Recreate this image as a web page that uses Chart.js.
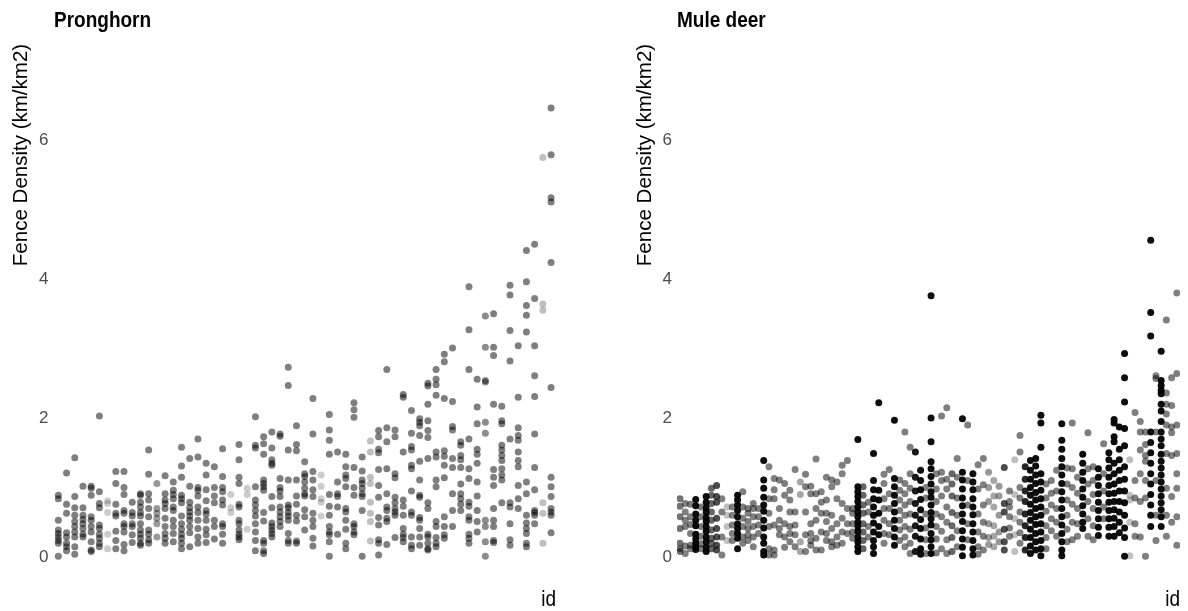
<!DOCTYPE html>
<html>
<head>
<meta charset="utf-8">
<script src="https://cdn.jsdelivr.net/npm/chart.js@4.4.1/dist/chart.umd.min.js"></script>
<style>
  html, body { margin: 0; padding: 0; background: #fff; }
  #wrap { position: relative; width: 1188px; height: 611px; }
  .panel { position: absolute; top: 0; width: 594px; height: 611px; }
</style>
</head>
<body>
<div id="wrap">
  <div class="panel" style="left:0"><canvas id="prongChart"></canvas></div>
  <div class="panel" style="left:594px"><canvas id="muleChart"></canvas></div>
</div>
<script>
// fence density per animal id (one inner array per id)
const pronghornValues = [
  [0.89,0.84,0.53,0.39,0.34,0.29,0.24,0.20,0.01],
  [1.21,0.76,0.63,0.35,0.29,0.20,0.15,0.09],
  [1.43,0.87,0.71,0.60,0.51,0.44,0.36,0.29,0.15,0.04],
  [1.02,0.71,0.60,0.54,0.48,0.41,0.33,0.29],
  [1.02,0.99,0.89,0.58,0.53,0.44,0.36,0.22,0.10,0.08],
  [2.03,0.94,0.77,0.71,0.46,0.41,0.33,0.27,0.20,0.15],
  [0.81,0.77,0.64,0.33,0.12],
  [1.23,1.06,0.76,0.63,0.59,0.37,0.24,0.12],
  [1.23,1.00,0.90,0.67,0.63,0.48,0.44,0.36,0.18,0.09],
  [0.79,0.64,0.59,0.48,0.44,0.32,0.21],
  [0.91,0.89,0.79,0.72,0.64,0.59,0.48,0.39,0.33,0.27,0.20,0.17],
  [1.54,1.19,0.91,0.82,0.70,0.58,0.39,0.33,0.25,0.20],
  [1.06,0.70,0.63,0.56,0.48,0.29],
  [1.17,0.91,0.82,0.77,0.70,0.56,0.44,0.34,0.27,0.20],
  [1.08,0.96,0.90,0.84,0.72,0.67,0.53,0.44,0.34,0.22],
  [1.58,1.31,1.15,0.89,0.84,0.78,0.59,0.48,0.40,0.33,0.27,0.20,0.12],
  [1.42,1.02,0.79,0.71,0.65,0.59,0.53,0.44,0.35,0.15],
  [1.70,1.44,1.00,0.96,0.88,0.72,0.64,0.53,0.41,0.29,0.20],
  [1.35,1.18,0.97,0.81,0.67,0.62,0.53,0.40,0.32,0.21],
  [1.30,1.00,0.88,0.78,0.53,0.44,0.26],
  [1.56,1.16,1.00,0.94,0.82,0.75,0.48,0.44,0.33,0.20],
  [0.90,0.71,0.64],
  [1.62,1.40,1.15,1.06,0.76,0.72,0.53,0.48,0.39,0.33,0.29,0.25],
  [0.99,0.90,0.40],
  [2.02,1.61,1.57,1.01,0.82,0.75,0.67,0.59,0.48,0.36,0.24,0.09],
  [1.73,1.63,1.48,1.11,1.06,1.01,0.96,0.64,0.52,0.24,0.20,0.09,0.05],
  [1.80,1.57,1.40,1.35,1.32,0.87,0.71,0.49,0.44,0.39,0.34,0.29],
  [1.77,1.74,1.13,1.00,0.95,0.87,0.72,0.65,0.58,0.51,0.44],
  [2.73,2.47,1.54,1.11,0.75,0.71,0.64,0.59,0.53,0.34,0.24,0.20],
  [1.89,1.62,1.53,1.11,0.88,0.76,0.60,0.52,0.23,0.20],
  [1.37,1.20,1.16,1.08,0.99,0.91,0.88,0.68,0.58,0.39],
  [2.28,1.77,1.23,1.11,0.97,0.87,0.63,0.53,0.44,0.27,0.16],
  [1.18,1.02,0.84,0.79,0.59],
  [2.05,1.83,1.68,1.48,0.90,0.73,0.60,0.44,0.36,0.32,0.22,0.01],
  [1.51,1.08,0.91,0.87,0.72,0.33],
  [1.48,1.30,1.18,1.13,1.01,0.70,0.65,0.53,0.40,0.20,0.12],
  [2.22,2.12,2.01,1.29,1.00,0.89,0.48,0.44,0.36,0.32],
  [1.44,1.24,1.11,1.06,0.99,0.91,0.87,0.67,0.01],
  [1.67,1.51,1.15,1.06,0.79,0.63,0.51,0.23],
  [1.82,1.73,1.55,1.50,1.26,1.03,0.86,0.57,0.46,0.25,0.20,0.03],
  [2.70,1.86,1.66,1.27,0.91,0.72,0.67,0.56,0.51,0.18],
  [1.83,1.73,1.20,1.14,0.86,0.78,0.70,0.65,0.60,0.28],
  [2.34,2.30,1.51,0.82,0.73,0.60,0.41,0.33,0.28,0.22],
  [2.11,1.78,1.59,1.54,1.32,1.27,0.95,0.65,0.60,0.29,0.17,0.12],
  [1.99,1.94,1.89,1.75,1.38,1.11,0.89,0.86,0.57,0.53,0.41,0.29,0.17],
  [2.50,2.46,2.20,1.96,1.82,1.72,1.42,0.78,0.70,0.33,0.29,0.20,0.12,0.10],
  [2.70,2.56,2.48,2.33,1.51,1.44,1.11,1.01,0.51,0.44,0.28,0.20,0.15],
  [2.92,2.81,2.28,1.53,1.45,1.32,1.14,0.58,0.44,0.32,0.27],
  [3.01,2.24,1.88,1.83,1.42,1.29,0.91,0.67,0.44],
  [1.66,1.61,1.46,1.40,1.29,1.05,0.91,0.84,0.76,0.67],
  [3.89,3.27,2.70,1.70,1.27,1.13,0.79,0.73,0.58,0.53,0.33,0.27,0.20],
  [2.56,2.16,1.92,1.55,1.48,1.35,1.08,0.88,0.67,0.51,0.36],
  [3.47,3.02,2.54,2.52,1.94,1.78,0.53,0.44,0.22,0.01],
  [3.50,3.02,2.90,2.20,1.26,1.15,1.03,0.70,0.53,0.44,0.24,0.21],
  [2.17,1.96,1.92,1.61,1.54,1.46,1.39,1.27,1.18,1.11,0.78],
  [3.91,3.77,3.26,2.82,1.70,0.78,0.72,0.48,0.25,0.17],
  [3.04,2.30,1.86,1.75,1.68,1.51,1.39,1.30,1.03,0.84,0.70],
  [4.41,3.96,3.62,3.48,3.24,1.08,0.91,0.60,0.49,0.41,0.34,0.20,0.15],
  [4.50,3.72,3.04,2.61,2.31,1.77,1.29,0.97,0.67,0.64,0.60,0.48],
  [5.75,3.64,3.55,0.78,0.63,0.20],
  [6.46,5.79,5.17,5.11,4.24,2.44,1.15,1.01,0.87,0.70,0.65,0.60,0.35]
];
const pronghornAlpha = [
  0.5,0.5,0.5,0.5,0.5,0.5,0.2,0.5,0.5,0.5,
  0.5,0.5,0.4,0.5,0.5,0.5,0.5,0.5,0.5,0.5,
  0.5,0.2,0.5,0.2,0.5,0.5,0.5,0.5,0.5,0.5,
  0.5,0.5,0.2,0.5,0.5,0.5,0.5,0.5,0.25,0.5,
  0.5,0.5,0.5,0.5,0.5,0.5,0.5,0.5,0.5,0.5,
  0.5,0.5,0.45,0.5,0.5,0.5,0.5,0.5,0.5,0.25,
  0.5
];

const muleDeerValues = [
  [0.84,0.73,0.58,0.41,0.20,0.12,0.08],
  [0.77,0.65,0.53,0.44,0.16,0.05],
  [0.76,0.58,0.47,0.34,0.17,0.12],
  [0.83,0.74,0.62,0.53,0.45,0.33,0.26,0.20,0.15,0.11],
  [0.72,0.58,0.44,0.30,0.19,0.12],
  [0.87,0.79,0.71,0.65,0.57,0.51,0.44,0.37,0.29,0.22,0.14,0.08],
  [0.99,0.89,0.77,0.65,0.53,0.39,0.27,0.20,0.12],
  [1.03,0.87,0.79,0.56,0.41,0.29,0.17,0.10],
  [0.84,0.65,0.29,0.03],
  [0.72,0.60,0.44,0.24],
  [0.72,0.60,0.46,0.34,0.24],
  [0.89,0.82,0.75,0.67,0.58,0.48,0.41,0.34,0.27,0.12],
  [0.94,0.72,0.56,0.44,0.29,0.20],
  [0.70,0.63,0.51,0.41,0.32,0.24],
  [0.77,0.70,0.58,0.44,0.29,0.15],
  [0.70,0.58,0.46,0.34],
  [1.39,1.11,0.99,0.86,0.75,0.66,0.53,0.42,0.29,0.20,0.08,0.03],
  [1.30,0.84,0.63,0.44,0.12,0.03],
  [1.13,0.97,0.84,0.46,0.10,0.03],
  [1.11,0.70,0.53,0.41,0.32],
  [1.06,0.89,0.48,0.29,0.14],
  [0.96,0.82,0.65,0.44,0.34,0.22],
  [1.26,0.65,0.46,0.32,0.15],
  [1.08,0.90,0.22,0.08],
  [1.19,1.01,0.65,0.32,0.08],
  [1.02,0.91,0.48,0.34,0.24,0.17],
  [1.41,0.91,0.70,0.53,0.27,0.10],
  [0.94,0.79,0.63,0.36,0.10],
  [1.15,0.82,0.63,0.51,0.34,0.24],
  [1.11,1.01,0.60,0.41,0.22,0.15],
  [1.08,0.84,0.48,0.29,0.17],
  [1.32,1.20,0.77,0.56,0.36,0.20],
  [1.39,0.70,0.48,0.34],
  [0.70,0.63,0.48,0.36,0.27],
  [1.69,1.01,0.94,0.87,0.80,0.72,0.65,0.58,0.50,0.44,0.37,0.29,0.22,0.15,0.08],
  [1.01,0.89,0.75,0.63,0.48,0.36,0.24,0.12],
  [0.79,0.65,0.44,0.29],
  [1.49,1.10,0.97,0.84,0.72,0.60,0.49,0.36,0.24,0.15,0.05],
  [2.22,0.96,0.82,0.63,0.44,0.32],
  [1.19,1.06,0.84,0.70,0.53,0.34,0.20],
  [1.26,0.91,0.70,0.48,0.32],
  [1.97,1.13,1.01,0.89,0.77,0.65,0.53,0.41,0.29,0.17],
  [1.11,0.96,0.82,0.67,0.53,0.39,0.24],
  [1.80,1.06,0.91,0.75,0.60,0.44,0.29,0.15],
  [1.58,1.20,0.99,0.80,0.62,0.40,0.20,0.05],
  [1.51,1.15,0.95,0.77,0.60,0.45,0.30,0.08],
  [1.25,1.10,0.97,0.83,0.68,0.54,0.41,0.26,0.12,0.04],
  [1.00,0.85,0.62,0.42,0.25,0.05],
  [3.76,2.00,1.66,1.37,1.27,1.16,1.05,0.94,0.86,0.75,0.64,0.55,0.46,0.34,0.25,0.15,0.05],
  [1.20,0.98,0.80,0.62,0.44,0.26,0.06],
  [2.03,1.22,1.10,0.88,0.58,0.37,0.12],
  [2.15,1.12,0.98,0.72,0.50,0.25,0.05],
  [1.20,1.05,0.88,0.64,0.45,0.28,0.08],
  [1.42,1.15,0.85,0.60,0.38,0.15],
  [1.99,1.22,1.11,0.98,0.85,0.74,0.62,0.51,0.38,0.26,0.14,0.02],
  [1.90,1.10,0.75,0.48,0.25],
  [1.20,1.08,0.97,0.84,0.72,0.61,0.48,0.36,0.24,0.12,0.03],
  [1.33,0.98,0.62,0.36,0.15,0.04],
  [1.42,1.04,0.75,0.50,0.30,0.10],
  [1.22,1.00,0.80,0.48,0.28,0.18],
  [1.10,0.88,0.72,0.45,0.30,0.15],
  [1.02,0.88,0.60,0.36,0.22],
  [1.29,0.77,0.65,0.40,0.22,0.10],
  [0.95,0.80,0.72,0.58,0.42,0.30],
  [1.40,0.90,0.55,0.32,0.08],
  [1.75,1.51,1.00,0.85,0.65,0.50,0.35,0.20],
  [1.30,1.12,0.95,0.80,0.62,0.45,0.28,0.10],
  [1.39,1.25,1.12,1.00,0.89,0.76,0.64,0.53,0.40,0.28,0.16,0.05],
  [1.42,1.31,1.18,1.06,0.93,0.82,0.70,0.58,0.47,0.34,0.22,0.10],
  [2.04,1.93,1.58,1.20,1.08,0.96,0.84,0.72,0.60,0.48,0.36,0.24,0.12,0.02],
  [1.05,0.85,0.66,0.45,0.28,0.12],
  [1.10,0.92,0.75,0.55,0.38],
  [1.25,0.95,0.70,0.50,0.30],
  [1.92,1.68,1.55,1.42,1.30,1.18,1.06,0.94,0.82,0.70,0.58,0.46,0.34,0.22,0.10,0.02],
  [1.28,1.05,0.82,0.60,0.40,0.22],
  [1.93,1.27,1.00,0.76,0.50,0.25],
  [1.15,0.92,0.70,0.48,0.30],
  [1.48,1.35,1.22,1.10,0.98,0.86,0.74,0.62,0.50,0.41],
  [1.79,1.27,1.05,0.80,0.55,0.30],
  [1.30,1.10,0.90,0.70,0.45,0.25],
  [1.27,1.15,1.03,0.91,0.79,0.67,0.55,0.43,0.31],
  [1.63,1.20,0.95,0.72,0.55],
  [1.50,1.40,1.28,1.15,1.03,0.91,0.79,0.67,0.55,0.43,0.30],
  [1.98,1.93,1.73,1.66,1.35,1.20,1.05,0.92,0.80,0.68,0.56,0.44,0.30],
  [1.87,1.55,1.40,1.25,1.10,0.95,0.80,0.65,0.50,0.35],
  [2.93,2.58,2.23,1.85,1.60,1.30,1.12,0.95,0.78,0.60,0.42,0.28,0.01],
  [1.40,0.89,0.82,0.50,0.02],
  [2.08,1.10,0.85,0.48,0.30],
  [1.95,1.80,1.54,1.20,0.80,0.29],
  [1.80,1.62,1.46,1.38,1.10,0.85,0.01],
  [4.56,3.52,3.18,1.80,1.65,1.50,1.35,1.20,1.05,0.90,0.75,0.60,0.44],
  [2.61,2.57,1.80,1.10,0.60,0.24],
  [2.96,2.54,2.47,2.40,2.35,2.20,2.10,1.95,1.80,1.70,1.60,1.48,1.38,1.28,1.18,1.08,0.98,0.88,0.78,0.68,0.58,0.44],
  [3.41,2.36,2.20,2.06,1.90,1.49,0.99,0.60,0.30],
  [2.58,2.18,1.87,1.79,1.46,0.87,0.50],
  [3.80,2.64,1.90,1.49,1.20,0.99,0.58,0.17]
];
const muleDeerAlpha = [
  0.55,0.5,0.5,0.95,0.5,0.95,0.6,0.7,0.5,0.25,
  0.5,0.95,0.5,0.5,0.5,0.5,0.95,0.5,0.5,0.5,
  0.5,0.5,0.5,0.35,0.5,0.5,0.5,0.5,0.5,0.5,
  0.5,0.5,0.5,0.5,0.95,0.6,0.5,0.95,0.95,0.5,
  0.5,0.95,0.5,0.5,0.5,0.9,0.95,0.5,0.95,0.5,
  0.5,0.5,0.6,0.5,0.95,0.5,0.95,0.5,0.5,0.4,
  0.35,0.4,0.7,0.5,0.25,0.5,0.85,0.95,0.95,0.95,
  0.5,0.5,0.5,0.95,0.5,0.5,0.5,0.95,0.5,0.5,
  0.95,0.5,0.95,0.95,0.95,0.95,0.25,0.5,0.5,0.5,
  0.95,0.5,0.95,0.5,0.5,0.5
];

const yTicks = [0, 2, 4, 6];
const yTitle = 'Fence Density (km/km2)';
const xTitle = 'id';

const FONT = '"Liberation Sans", Arial, sans-serif';

// titles, rotated y title and the "id" label (drawn a little taller, like the source)
const panelTextPlugin = {
    id: 'panelText',
    afterDraw: (chart) => {
        const o = chart.config.options.plugins.panelText;
        if (!o) return;
        const ctx = chart.ctx;
        const area = chart.chartArea;
        ctx.save();
        ctx.fillStyle = '#000';
        ctx.textBaseline = 'alphabetic';

        ctx.save();
        ctx.translate(o.titleX, 27);
        ctx.scale(1, 1.12);
        ctx.font = 'bold 19px ' + FONT;
        ctx.textAlign = 'left';
        ctx.fillText(o.title, 0, 0);
        ctx.restore();

        ctx.save();
        ctx.translate(area.right, 606);
        ctx.scale(1, 1.12);
        ctx.font = '19px ' + FONT;
        ctx.textAlign = 'right';
        ctx.fillText(xTitle, 0, 0);
        ctx.restore();

        ctx.translate(o.yTitleX, 155);
        ctx.rotate(-Math.PI / 2);
        ctx.scale(1.08, 1.1);
        ctx.font = '19px ' + FONT;
        ctx.textAlign = 'center';
        ctx.fillText(yTitle, 0, 0);
        ctx.restore();
    }
};

function makeStripChart(canvasId, values, alphas, title, opts) {
    let points = [];
    let colors = [];
    values.forEach((col, i) => {
        col.forEach(v => {
            points.push({ x: i, y: v });
            colors.push(`rgba(0, 0, 0, ${alphas[i]})`);
        });
    });

    return new Chart(document.getElementById(canvasId).getContext('2d'), {
        type: 'scatter',
        data: {
            datasets: [{
                data: points,
                pointBackgroundColor: colors,
                pointBorderWidth: 0,
                pointRadius: 3.5,
                pointHoverRadius: 3.5
            }]
        },
        options: {
            responsive: true, maintainAspectRatio: false, animation: false,
            layout: { padding: { top: 40, bottom: 31, left: 0, right: opts.padRight } },
            events: [],
            plugins: {
                legend: { display: false },
                tooltip: { enabled: false },
                panelText: { title: title, titleX: opts.titleX, yTitleX: opts.yTitleX }
            },
            scales: {
                x: { type: 'linear', display: false, min: -0.6, max: values.length - 0.4 },
                y: {
                    min: -0.33, max: 7.44,
                    grid: { display: false, drawTicks: false },
                    border: { display: false },
                    afterBuildTicks: (s) => { s.ticks = yTicks.map(v => ({ value: v })); },
                    afterFit: (s) => { s.width = opts.axisWidth; },
                    ticks: {
                        padding: 5,
                        color: '#4d4d4d',
                        font: { family: FONT, size: 17 },
                        callback: (v) => v
                    }
                }
            }
        },
        plugins: [panelTextPlugin]
    });
}

makeStripChart('prongChart', pronghornValues, pronghornAlpha, 'Pronghorn',
    { axisWidth: 53.4, padRight: 38, titleX: 54, yTitleX: 26.5 });
makeStripChart('muleChart', muleDeerValues, muleDeerAlpha, 'Mule deer',
    { axisWidth: 82.9, padRight: 8, titleX: 83, yTitleX: 56.6 });
</script>
</body>
</html>
